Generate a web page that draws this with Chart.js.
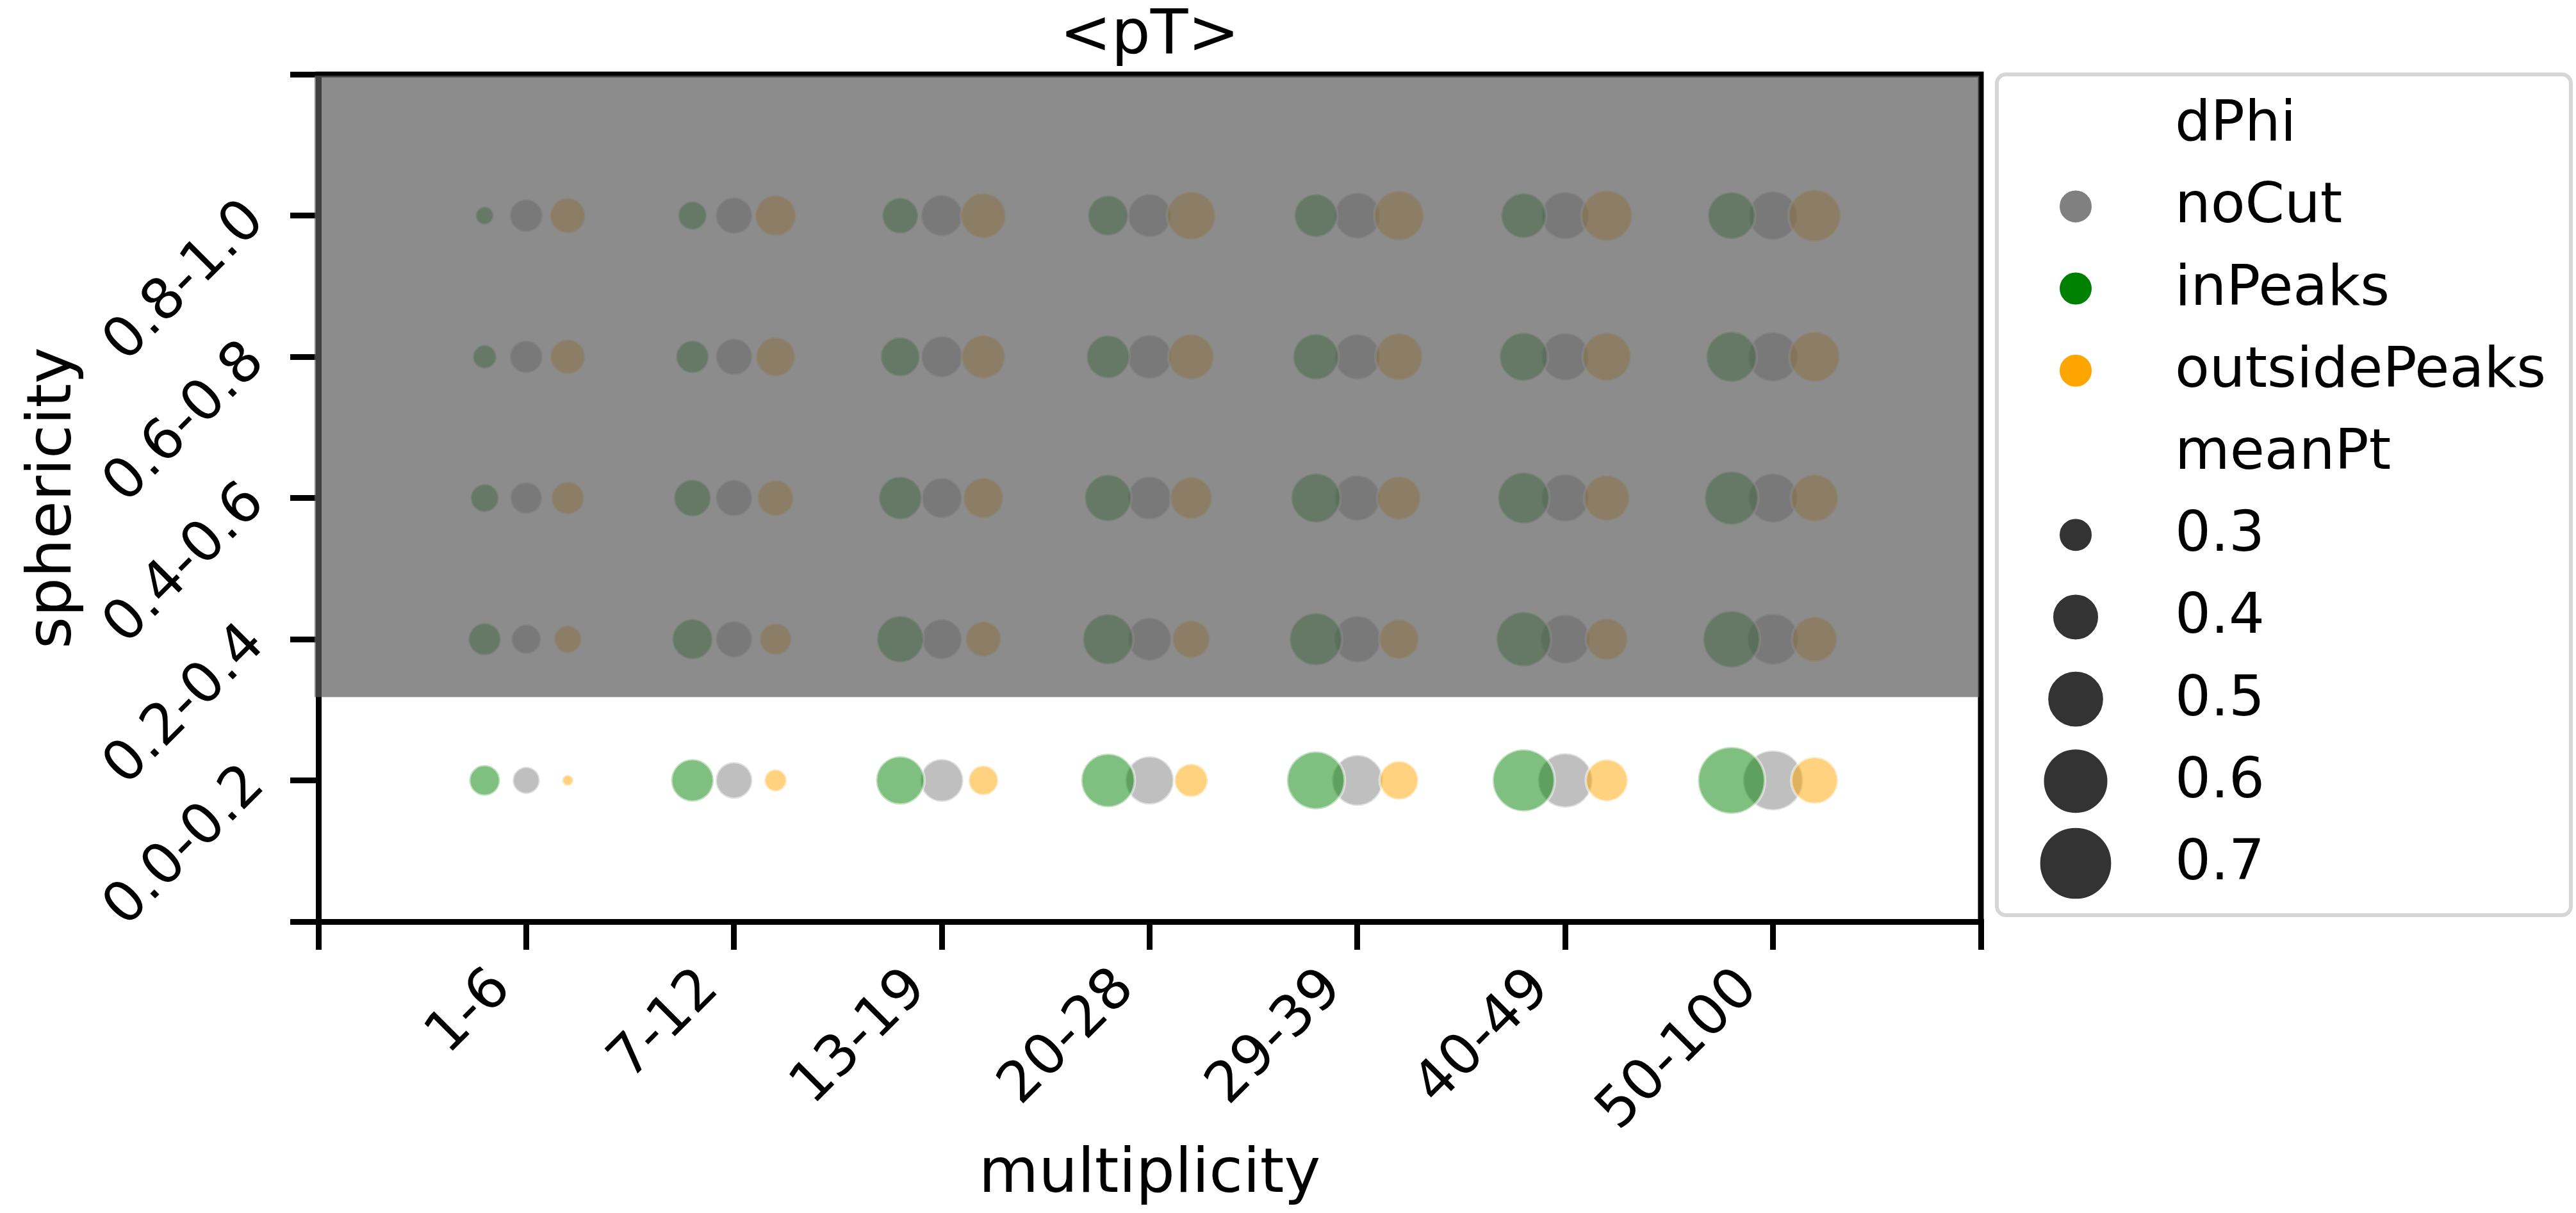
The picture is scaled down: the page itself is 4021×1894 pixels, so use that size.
<!DOCTYPE html>
<html>
<head>
<meta charset="utf-8">
<title>&lt;pT&gt; by multiplicity and sphericity</title>
<script src="https://cdn.jsdelivr.net/npm/chart.js@4.4.1/dist/chart.umd.min.js"></script>
<style>
  html, body { margin: 0; padding: 0; background: #ffffff; }
  canvas { display: block; }
</style>
</head>
<body>
<canvas id="chart" width="4021" height="1894"></canvas>
<script>
// Category bins
const multiplicityBins = ['1-6', '7-12', '13-19', '20-28', '29-39', '40-49', '50-100'];
const sphericityBins = ['0.0-0.2', '0.2-0.4', '0.4-0.6', '0.6-0.8', '0.8-1.0'];

// Mean pT, one row per sphericity bin, one column per multiplicity bin
const meanPtNoCut = [
  [0.256, 0.314, 0.362, 0.409, 0.433, 0.470, 0.529],
  [0.270, 0.314, 0.341, 0.365, 0.394, 0.417, 0.438],
  [0.283, 0.314, 0.341, 0.365, 0.385, 0.403, 0.418],
  [0.289, 0.314, 0.349, 0.372, 0.385, 0.403, 0.423],
  [0.289, 0.314, 0.349, 0.365, 0.388, 0.403, 0.413]
];
const meanPtInPeaks = [
  [0.276, 0.358, 0.409, 0.460, 0.505, 0.553, 0.613],
  [0.286, 0.341, 0.394, 0.428, 0.449, 0.471, 0.493],
  [0.262, 0.317, 0.362, 0.394, 0.418, 0.438, 0.460],
  [0.240, 0.289, 0.333, 0.362, 0.385, 0.409, 0.428],
  [0.217, 0.264, 0.310, 0.341, 0.362, 0.380, 0.399]
];
const meanPtOutsidePeaks = [
  [0.198, 0.233, 0.270, 0.292, 0.329, 0.354, 0.394],
  [0.259, 0.283, 0.307, 0.321, 0.337, 0.354, 0.380],
  [0.289, 0.310, 0.341, 0.354, 0.367, 0.385, 0.399],
  [0.303, 0.333, 0.367, 0.385, 0.399, 0.409, 0.428],
  [0.307, 0.345, 0.380, 0.409, 0.423, 0.433, 0.444]
];

// Values shown in the size legend
const meanPtLegendValues = [0.3, 0.4, 0.5, 0.6, 0.7];

// Shaded band covers everything above this position on the sphericity axis
const shadeFrom = 0.59;

const FONT = 'DejaVu Sans';
Chart.defaults.font.family = FONT;
Chart.defaults.color = '#000000';

// Marker area grows linearly with mean pT
function markerRadius(v) {
  return Math.sqrt(Math.max(0, 8040 + 25600 * (v - 0.5))) / 2;
}

function toPoints(grid, shift) {
  const pts = [];
  grid.forEach((row, yi) => row.forEach((v, xi) => pts.push({ x: xi + shift, y: yi, v: v })));
  return pts;
}

const series = [
  { label: 'noCut', grid: meanPtNoCut, rgb: [128, 128, 128], shift: 0, order: 3 },
  { label: 'inPeaks', grid: meanPtInPeaks, rgb: [0, 128, 0], shift: -0.2, order: 2 },
  { label: 'outsidePeaks', grid: meanPtOutsidePeaks, rgb: [255, 165, 0], shift: 0.2, order: 1 }
];

const rgba = (c, a) => `rgba(${c[0]},${c[1]},${c[2]},${a})`;

const datasets = series.map(s => ({
  label: s.label,
  data: toPoints(s.grid, s.shift),
  order: s.order,
  backgroundColor: rgba(s.rgb, 0.5),
  borderColor: 'rgba(255,255,255,0.5)',
  borderWidth: 4,
  pointStyle: 'circle',
  pointRadius: ctx => (ctx.raw ? markerRadius(ctx.raw.v) : 3),
  pointHoverRadius: ctx => (ctx.raw ? markerRadius(ctx.raw.v) : 3),
  hoverBorderWidth: 4
}));

// Top and right spines
const framePlugin = {
  id: 'frame',
  beforeDatasetsDraw(chart) {
    const { ctx, chartArea: a } = chart;
    ctx.save();
    ctx.strokeStyle = '#000000';
    ctx.lineWidth = 9;
    ctx.lineCap = 'butt';
    ctx.beginPath();
    ctx.moveTo(a.left - 4.5, a.top);
    ctx.lineTo(a.right + 4.5, a.top);
    ctx.moveTo(a.right, a.top);
    ctx.lineTo(a.right, a.bottom + 4.5);
    ctx.stroke();
    ctx.restore();
  }
};

// Semi-transparent band over the upper sphericity bins
const shadePlugin = {
  id: 'shade',
  afterDatasetsDraw(chart) {
    const { ctx, chartArea: a, scales } = chart;
    const yBottom = scales.y.getPixelForValue(shadeFrom);
    const yTop = a.top + 2;
    ctx.save();
    ctx.fillStyle = 'rgba(91,91,91,0.7)';
    ctx.fillRect(a.left - 6, yTop, (a.right - 2.5) - (a.left - 6), yBottom - yTop);
    ctx.restore();
  }
};

// Legend: hue entries then size entries
const legendPlugin = {
  id: 'sideLegend',
  afterDraw(chart) {
    const { ctx, chartArea: a } = chart;
    const boxL = a.right + 25, boxT = a.top, boxR = 4013, boxB = a.bottom - 10;
    ctx.save();
    ctx.fillStyle = '#ffffff';
    ctx.strokeStyle = '#d6d6d6';
    ctx.lineWidth = 6;
    ctx.beginPath();
    ctx.roundRect(boxL, boxT, boxR - boxL, boxB - boxT, 14);
    ctx.fill();
    ctx.stroke();

    const entries = [{ text: 'dPhi' }]
      .concat(series.map(s => ({ text: s.label, color: rgba(s.rgb, 1), r: 27 })))
      .concat([{ text: 'meanPt' }])
      .concat(meanPtLegendValues.map(v => ({ text: String(v), color: '#333333', r: markerRadius(v) })));

    const markerX = boxL + 123;
    const textX = boxL + 278;
    const firstBase = boxT + 103;
    const step = 128.2;
    ctx.font = `88px "${FONT}"`;
    ctx.textAlign = 'left';
    ctx.textBaseline = 'alphabetic';
    entries.forEach((e, i) => {
      const base = firstBase + step * i;
      if (e.color) {
        ctx.beginPath();
        ctx.arc(markerX, base - 25, e.r, 0, Math.PI * 2);
        ctx.fillStyle = e.color;
        ctx.fill();
        ctx.lineWidth = 4;
        ctx.strokeStyle = '#ffffff';
        ctx.stroke();
      }
      ctx.fillStyle = '#000000';
      ctx.fillText(e.text, textX, base);
    });
    ctx.restore();
  }
};

const axisGrid = {
  drawOnChartArea: false,
  drawTicks: true,
  tickLength: 44,
  tickWidth: 9,
  tickColor: '#000000',
  color: '#000000',
  lineWidth: 9
};

new Chart(document.getElementById('chart'), {
  type: 'scatter',
  data: { datasets },
  options: {
    responsive: false,
    animation: false,
    devicePixelRatio: 1,
    layout: { padding: { left: 0, right: 929, top: 0, bottom: 0 } },
    plugins: {
      legend: { display: false },
      tooltip: { enabled: false },
      title: {
        display: true,
        text: '<pT>',
        fullSize: false,
        color: '#000000',
        font: { family: FONT, size: 96, weight: 'normal' },
        padding: { top: 0, bottom: 1 }
      }
    },
    scales: {
      x: {
        type: 'linear',
        min: -1,
        max: 7,
        afterFit: s => { s.height = 455; },
        ticks: {
          stepSize: 1,
          autoSkip: false,
          minRotation: 45,
          maxRotation: 45,
          padding: 10,
          labelOffset: -37,
          color: '#000000',
          font: { family: FONT, size: 88 },
          callback: v => multiplicityBins[v] ?? ''
        },
        grid: axisGrid,
        border: { display: true, color: '#000000', width: 9 },
        title: {
          display: true,
          text: 'multiplicity',
          color: '#000000',
          font: { family: FONT, size: 96 },
          padding: { top: 0, bottom: 0 }
        }
      },
      y: {
        type: 'linear',
        min: -1,
        max: 5,
        afterFit: s => { s.width = 497; },
        ticks: {
          stepSize: 1,
          autoSkip: false,
          minRotation: 45,
          maxRotation: 45,
          padding: 53,
          labelOffset: -6,
          color: '#000000',
          font: { family: FONT, size: 88 },
          callback: v => sphericityBins[v] ?? ''
        },
        grid: axisGrid,
        border: { display: true, color: '#000000', width: 9 },
        title: {
          display: true,
          text: 'sphericity',
          color: '#000000',
          font: { family: FONT, size: 96 },
          padding: { top: 27, bottom: 0 }
        }
      }
    }
  },
  plugins: [framePlugin, shadePlugin, legendPlugin]
});
</script>
</body>
</html>
